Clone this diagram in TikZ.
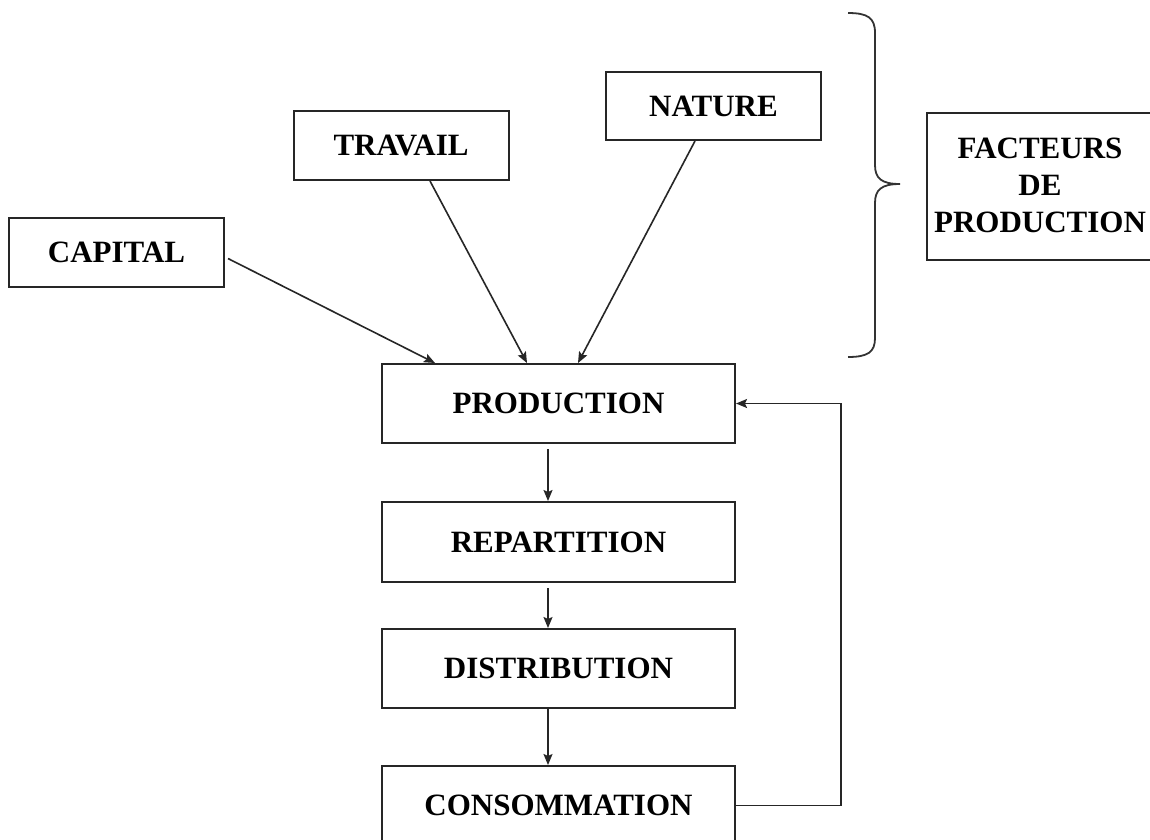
\documentclass[tikz,border=0pt]{standalone}
\usepackage{fontspec}
\setmainfont{Liberation Serif}
\usetikzlibrary{arrows.meta,calc}
\begin{document}
\begin{tikzpicture}[x=1pt,y=-1pt,
  label text/.style={font=\bfseries\fontsize{31}{37}\selectfont},
  box/.style={draw=black!85, line width=2pt, fill=white, inner sep=0pt, label text},
  factor/.style={box, minimum width=215pt, minimum height=69pt},
  stage/.style={box, minimum width=353pt, minimum height=79pt},
  arr/.style={draw=black!85, line width=1.6pt, -{Stealth[length=11pt,width=9pt,inset=2pt]}},
  bracket/.style={draw=black!80, line width=1.8pt}]
\clip (0,0) rectangle (1150,839);
\fill[white] (0,0) rectangle (1150,839);

% factors of production
\node[factor] (capital) at (116.5,252.5) {CAPITAL};
\node[factor] (travail) at (401,145.5) {TRAVAIL};
\node[factor, minimum height=68pt] (nature) at (713.5,106) {NATURE};
\node[box, minimum width=250pt, minimum height=147pt, anchor=west]
  (facteurs) at (926,186.5) {};
\node[label text, align=center, inner sep=0pt] (facteurstext) at (1040,185)
  {FACTEURS\\DE\\PRODUCTION};

% brace grouping the factors
\draw[bracket] (848,13) .. controls (868,13) and (875,18) .. (875,33)
  -- (875,165) .. controls (875,178) and (881,184) .. (900,184)
  .. controls (881,184) and (875,190) .. (875,203)
  -- (875,338) .. controls (875,352) and (868,357) .. (848,357);

% economic cycle
\node[stage] (prod) at (558.5,403.5) {PRODUCTION};
\node[stage, minimum height=80pt] (rep) at (558.5,542) {REPARTITION};
\node[stage] (dist) at (558.5,668.5) {DISTRIBUTION};
\node[stage] (conso) at (558.5,805.5) {CONSOMMATION};

% inputs into production
\draw[arr] ($(capital.east)+(3,6)$) -- ($(prod.north)+(-123.5,0)$);
\draw[arr] ($(travail.south)+(29,0)$) -- ($(prod.north)+(-31.5,0)$);
\draw[arr] ($(nature.south)+(-18.5,0)$) -- ($(prod.north)+(19.5,0)$);

% flow down the cycle
\draw[arr] ($(prod.south)+(-10.5,5)$) -- ($(rep.north)+(-10.5,0)$);
\draw[arr] ($(rep.south)+(-10.5,5)$) -- ($(dist.north)+(-10.5,0)$);
\draw[arr] ($(dist.south)+(-10.5,0)$) -- ($(conso.north)+(-10.5,0)$);

% feedback loop
\draw[arr] (conso.east) -- ++(105,0) |- (prod.east);
\end{tikzpicture}
\end{document}
